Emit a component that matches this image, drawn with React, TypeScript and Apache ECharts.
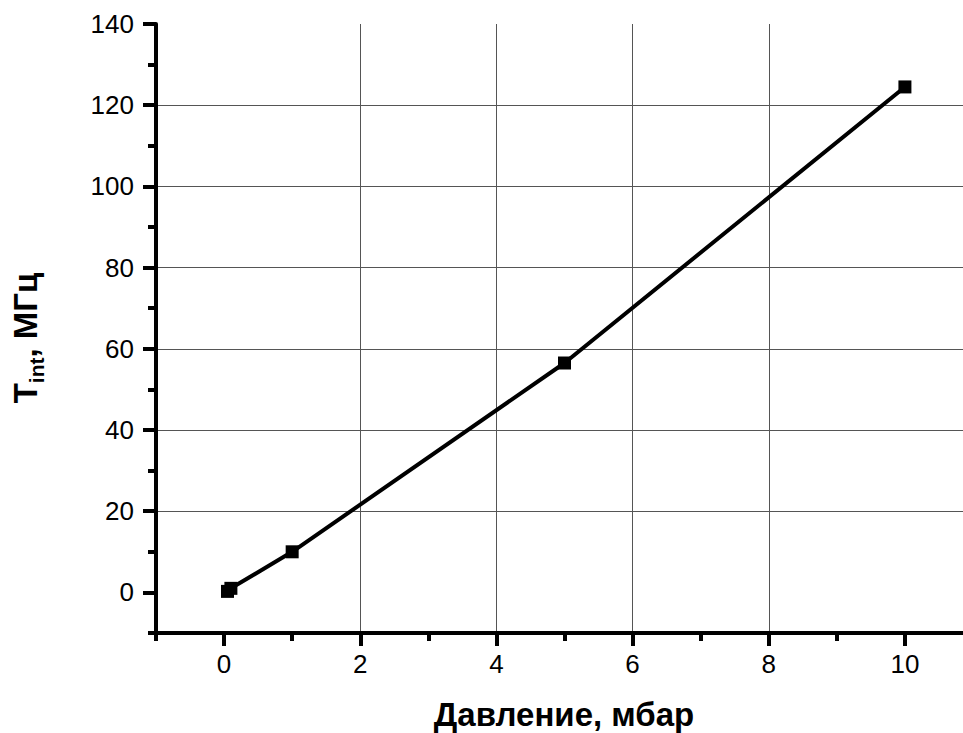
import React, { useEffect, useRef } from "react";
import * as echarts from "echarts";

const pressure = [0.05, 0.1, 1, 5, 10];
const tint = [0.25, 1.0, 10.0, 56.5, 124.5];

const xMajorTicks = [0, 2, 4, 6, 8, 10];
const yMajorTicks = [0, 20, 40, 60, 80, 100, 120, 140];

const xTitle = "Давление, мбар";
const yTitleMain = "T";
const yTitleSub = "int";
const yTitleRest = ", МГц";

const FONT = "'Liberation Sans', Arial, sans-serif";

export default function App() {
  const ref = useRef<HTMLDivElement>(null);
  useEffect(() => {
    if (!ref.current) return;
    const chart = echarts.init(ref.current, undefined, { renderer: "svg" });
    const data = pressure.map((p, i) => [p, tint[i]]);
    const axisBase = {
      type: "value" as const,
      axisLine: { onZero: false },
    };
    chart.setOption({
      animation: false,
      backgroundColor: "#fff",
      grid: {
        left: 156,
        right: -10,
        top: 24,
        bottom: 100,
        containLabel: false,
        outerBoundsMode: "none",
      },
      xAxis: [
        {
          ...axisBase,
          min: -1,
          max: 11,
          position: "bottom",
          splitNumber: 6,
          axisLine: { show: true, onZero: false, lineStyle: { color: "#000", width: 4 } },
          axisTick: {
            show: true,
            customValues: xMajorTicks,
            length: 13,
            lineStyle: { color: "#000", width: 4 },
          },
          axisLabel: {
            show: true,
            customValues: xMajorTicks,
            fontSize: 26,
            color: "#000",
            fontFamily: FONT,
            margin: 18,
          },
          splitLine: {
            show: true,
            showMinLine: false,
            showMaxLine: false,
            lineStyle: { color: "#555", width: 1 },
          },
        },
        {
          ...axisBase,
          min: -1,
          max: 11,
          interval: 1,
          position: "bottom",
          axisLine: { show: false, onZero: false },
          axisTick: { show: true, length: 8, lineStyle: { color: "#000", width: 4 } },
          axisLabel: { show: false },
          splitLine: { show: false },
        },
      ],
      yAxis: [
        {
          ...axisBase,
          min: -10,
          max: 140,
          position: "left",
          splitNumber: 7,
          axisLine: { show: true, onZero: false, lineStyle: { color: "#000", width: 4 } },
          axisTick: {
            show: true,
            customValues: yMajorTicks,
            length: 13,
            lineStyle: { color: "#000", width: 4 },
          },
          axisLabel: {
            show: true,
            customValues: yMajorTicks,
            fontSize: 26,
            color: "#000",
            fontFamily: FONT,
            margin: 22,
          },
          splitLine: {
            show: true,
            showMinLine: false,
            showMaxLine: false,
            lineStyle: { color: "#555", width: 1 },
          },
        },
        {
          ...axisBase,
          min: -10,
          max: 140,
          interval: 10,
          position: "left",
          axisLine: { show: false, onZero: false },
          axisTick: { show: true, length: 8, lineStyle: { color: "#000", width: 4 } },
          axisLabel: { show: false },
          splitLine: { show: false },
        },
      ],
      series: [
        {
          type: "line",
          xAxisIndex: 0,
          yAxisIndex: 0,
          data,
          symbol: "rect",
          symbolSize: 13,
          showAllSymbol: true,
          lineStyle: { color: "#000", width: 4 },
          itemStyle: { color: "#000" },
          z: 5,
        },
      ],
      graphic: [
        {
          type: "text",
          x: 564,
          y: 714,
          style: {
            text: xTitle,
            align: "center",
            verticalAlign: "middle",
            fontSize: 33,
            fontWeight: "bold",
            fontFamily: FONT,
            fill: "#000",
          },
        },
        {
          type: "text",
          x: 25,
          y: 338,
          rotation: Math.PI / 2,
          style: {
            text: `{a|${yTitleMain}}{b|${yTitleSub}}{a|${yTitleRest}}`,
            align: "center",
            verticalAlign: "middle",
            fill: "#000",
            rich: {
              a: {
                fontSize: 33,
                fontWeight: "bold",
                fontFamily: FONT,
                lineHeight: 44,
                fill: "#000",
              },
              b: {
                fontSize: 21,
                fontWeight: "bold",
                fontFamily: FONT,
                lineHeight: 21,
                verticalAlign: "bottom",
                fill: "#000",
              },
            },
          },
        },
      ],
    });
    return () => chart.dispose();
  }, []);
  return (
    <div
      ref={ref}
      style={{ position: "absolute", left: 0, top: 0, width: 963, height: 733 }}
    />
  );
}
